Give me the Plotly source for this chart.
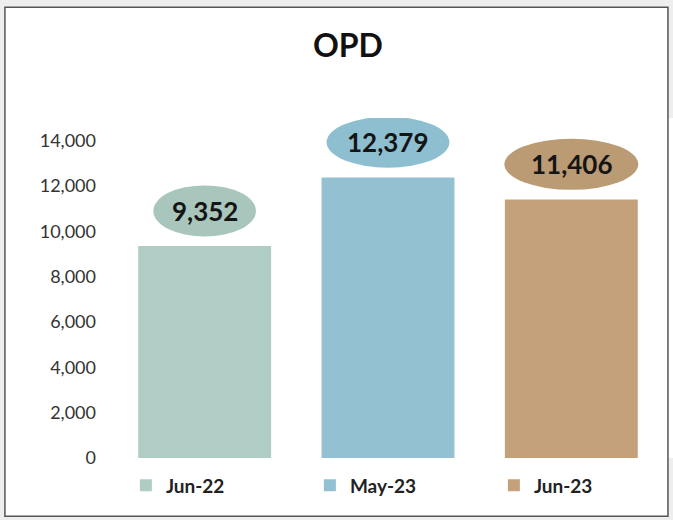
import plotly.graph_objects as go

categories = ["Jun-22", "May-23", "Jun-23"]
values = [9352, 12379, 11406]
labels = ["9,352", "12,379", "11,406"]
tick_vals = [0, 2000, 4000, 6000, 8000, 10000, 12000, 14000]
tick_text = ["0", "2,000", "4,000", "6,000", "8,000", "10,000", "12,000", "14,000"]

# styles
bar_colors = ["#b0cdc5", "#93c1d1", "#c4a17b"]
ellipse_colors = ["#a8c6bc", "#8ebfd1", "#bb9b73"]
ellipse_half_w = [0.28, 0.335, 0.365]
ellipse_gap = 1550
ellipse_h = 2250
FONT = "Lato"

fig = go.Figure()
for i, (c, v) in enumerate(zip(categories, values)):
    fig.add_trace(go.Bar(
        x=[i], y=[v], name=c, marker=dict(color=bar_colors[i], line=dict(width=0)),
        width=0.725, hoverinfo="skip",
    ))

shapes = []
annotations = []
# outer border frame
shapes.append(dict(type="rect", xref="paper", yref="paper",
                   x0=-0.193, x1=0.991, y0=-0.171, y1=1.326,
                   fillcolor="white", line=dict(color="#555555", width=1.5), layer="below"))
for i, v in enumerate(values):
    yc = v + ellipse_gap
    shapes.append(dict(type="circle", xref="x", yref="y",
                       x0=i - ellipse_half_w[i], x1=i + ellipse_half_w[i],
                       y0=yc - ellipse_h / 2, y1=yc + ellipse_h / 2,
                       fillcolor=ellipse_colors[i], line=dict(width=0)))
    annotations.append(dict(x=i, y=yc, xref="x", yref="y", text="<b>%s</b>" % labels[i],
                            showarrow=False, font=dict(size=26, color="#151515", family=FONT)))

fig.update_layout(
    width=673, height=520,
    margin=dict(l=113, r=0, t=118, b=62, autoexpand=False),
    paper_bgcolor="#eeeeee", plot_bgcolor="white",
    barmode="overlay",
    title=dict(text="<b>OPD</b>", x=0.517, xanchor="center", y=0.912, yanchor="middle",
               font=dict(size=32, color="#111111", family=FONT)),
    xaxis=dict(range=[-0.5, 2.5 + 10 / 183], showticklabels=False, showgrid=False, zeroline=False,
               showline=False, fixedrange=True, automargin=False),
    yaxis=dict(range=[0, 15000], tickvals=tick_vals, ticktext=tick_text, showgrid=False,
               zeroline=False, showline=False, ticks="", ticklabelstandoff=16, automargin=False,
               tickfont=dict(size=18, color="#333333", family=FONT)),
    legend=dict(orientation="h", x=0.023, xanchor="left", y=-0.025, yanchor="top",
                entrywidth=139, entrywidthmode="pixels", bgcolor="rgba(0,0,0,0)",
                font=dict(size=19, color="#222222", family=FONT, weight="bold"), traceorder="normal"),
    shapes=shapes, annotations=annotations, showlegend=True,
)
fig.write_html("out.html", config={"displayModeBar": False},
               post_script="document.body.style.margin='0';")
